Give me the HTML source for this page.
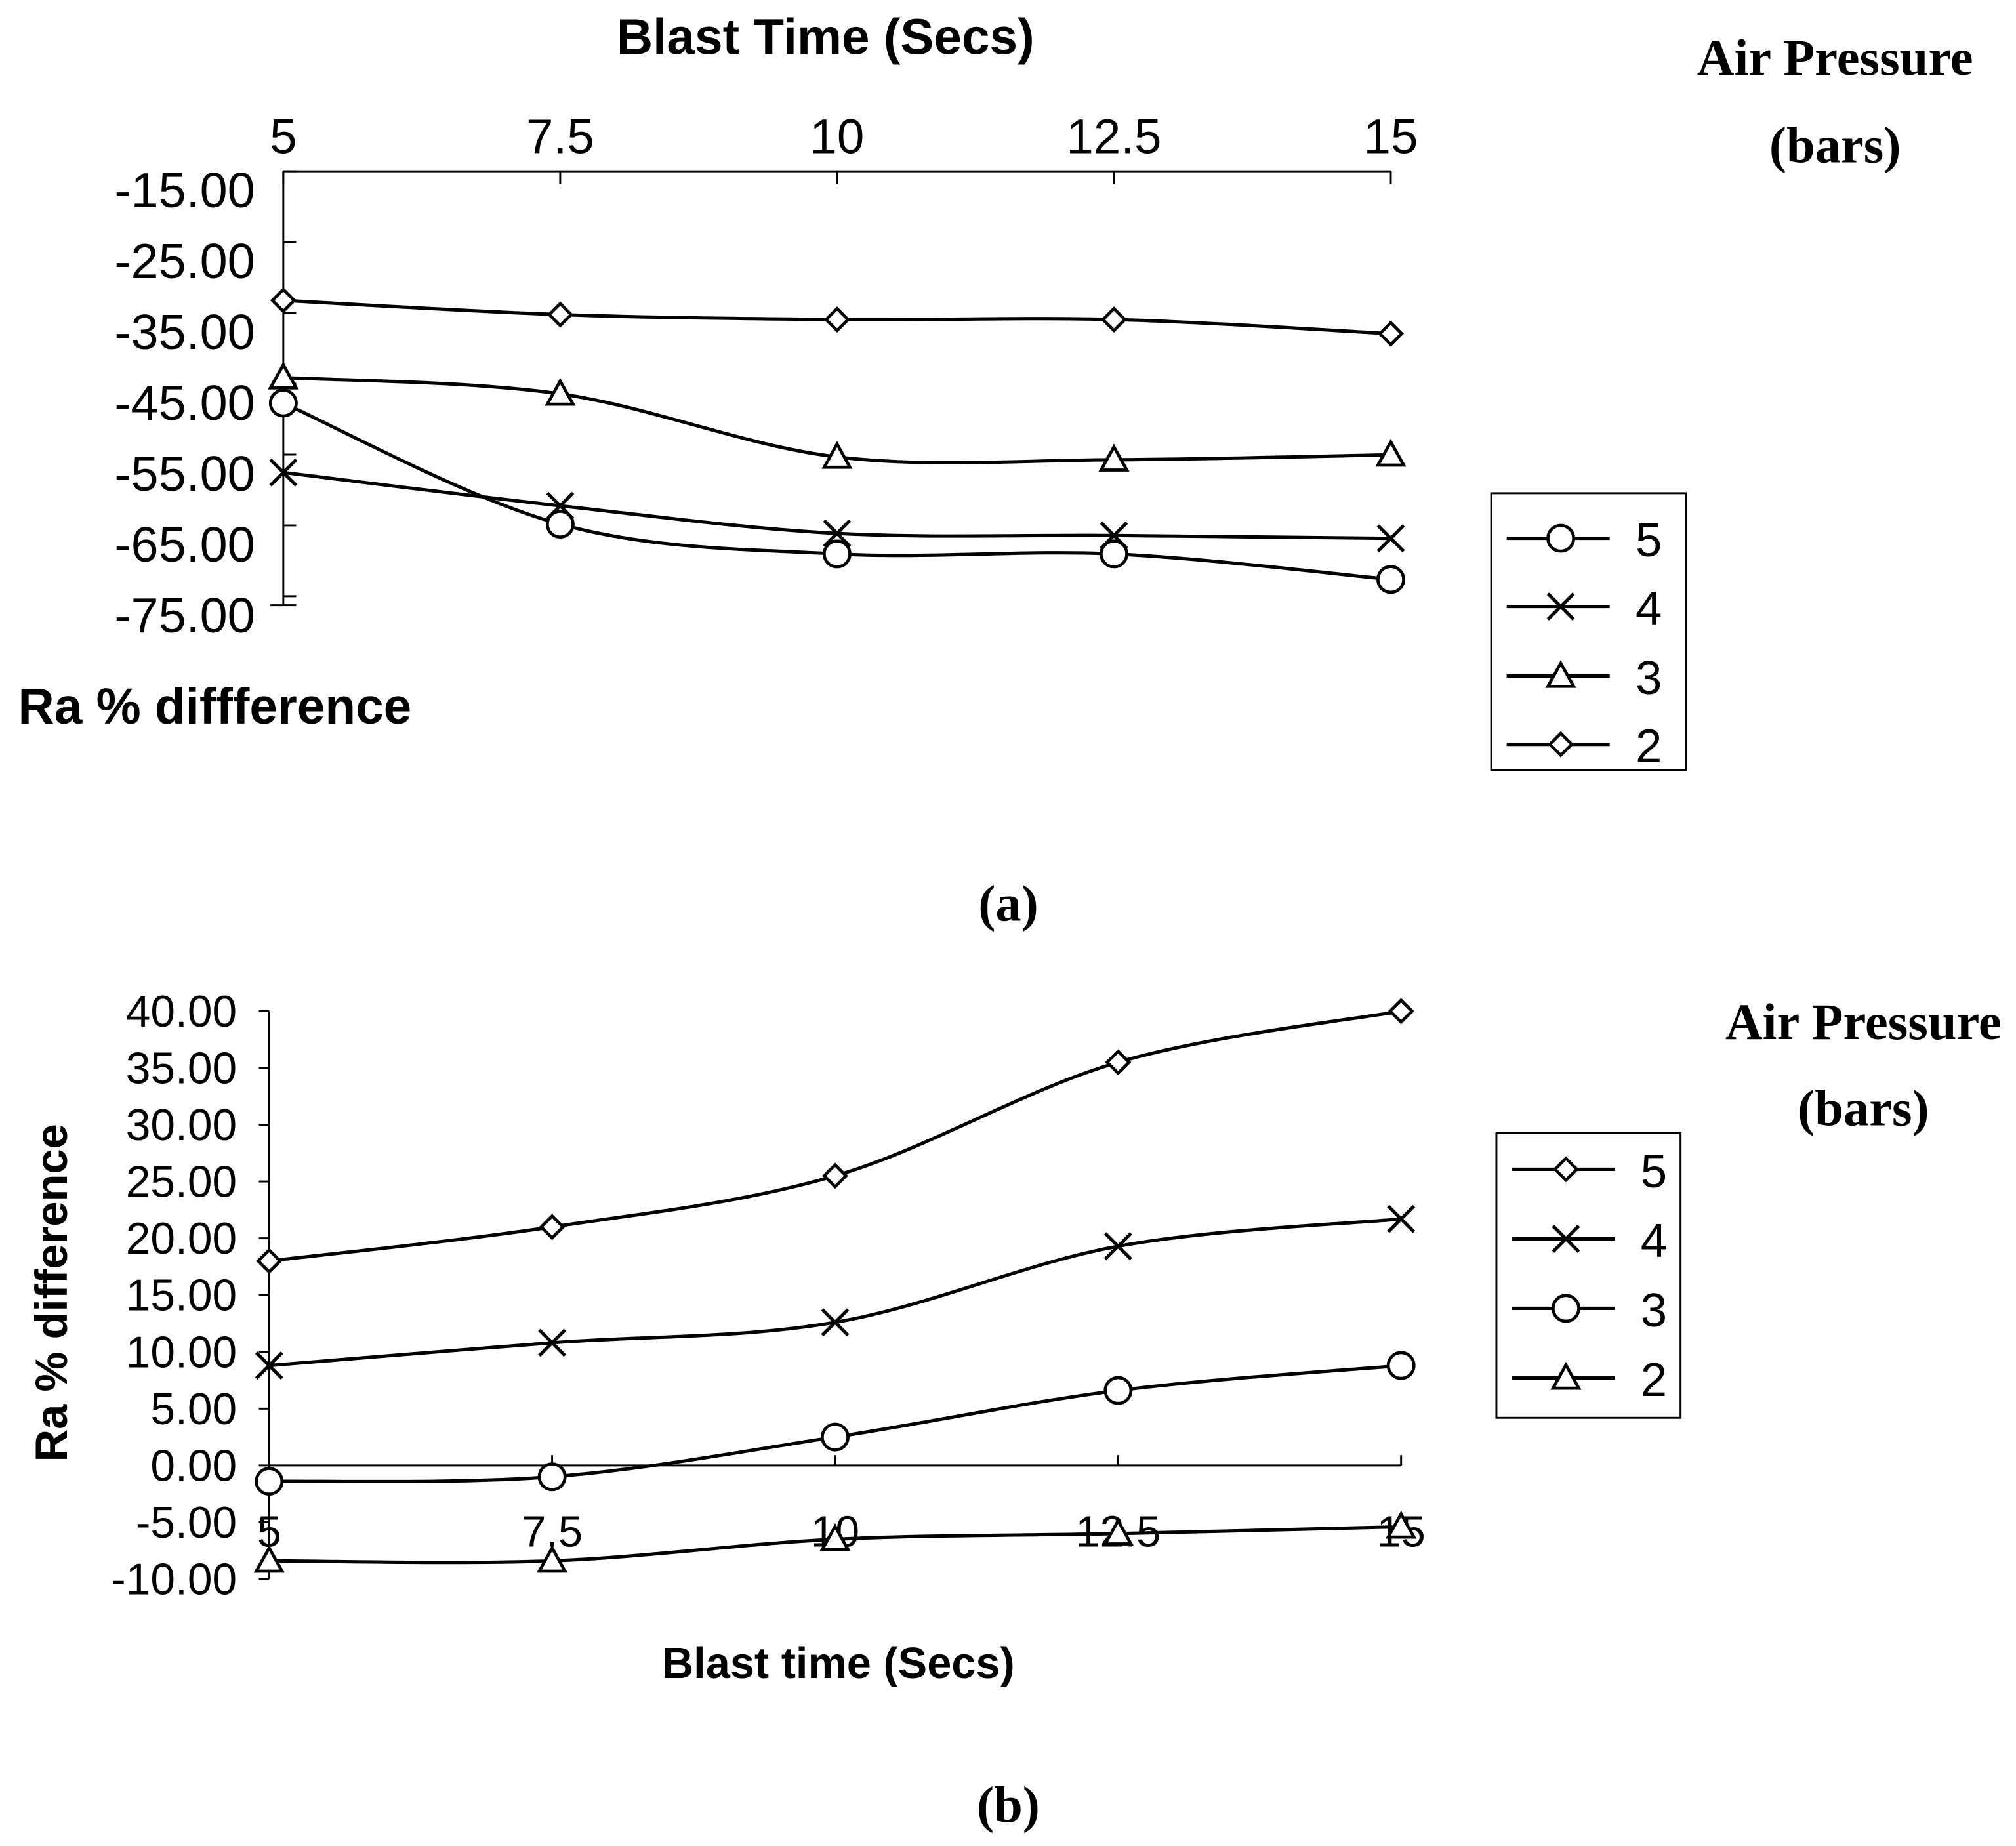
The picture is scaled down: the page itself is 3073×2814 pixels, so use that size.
<!DOCTYPE html>
<html><head><meta charset="utf-8"><style>
html,body{margin:0;padding:0;background:#fff;}
svg{display:block;}
text{font-family:"Liberation Sans",Arial,sans-serif;fill:#000;}
.serif{font-family:"Liberation Serif",serif;font-weight:bold;}
</style></head><body>
<svg id="c" width="3073" height="2814" viewBox="0 0 1565.5 1433.5" xmlns="http://www.w3.org/2000/svg">
<g id="ga"></g>
<g id="gb"></g>
</svg>
<script>
const xCats = [5, 7.5, 10, 12.5, 15];
const xTickLabels = ["5", "7.5", "10", "12.5", "15"];
// Chart (a)
const aSeries5 = [-45, -62.1, -66.3, -66.3, -69.9];
const aSeries4 = [-54.8, -59.5, -63.4, -63.7, -64.1];
const aSeries3 = [-41.4, -43.7, -52.6, -53, -52.3];
const aSeries2 = [-30.5, -32.5, -33.2, -33.2, -35.2];
const aYTicks = [-15, -25, -35, -45, -55, -65, -75];
// Chart (b)
const bSeries5 = [18, 21, 25.5, 35.5, 40];
const bSeries4 = [8.8, 10.8, 12.6, 19.3, 21.7];
const bSeries3 = [-1.4, -1, 2.5, 6.6, 8.8];
const bSeries2 = [-8.4, -8.4, -6.5, -6, -5.4];
const bYTicks = [40, 35, 30, 25, 20, 15, 10, 5, 0, -5, -10];

const NS = "http://www.w3.org/2000/svg";
function mk(parent, tag, attrs, txt){
  const e = document.createElementNS(NS, tag);
  for (const k in attrs) e.setAttribute(k, attrs[k]);
  if (txt !== undefined) e.textContent = txt;
  parent.appendChild(e); return e;
}
function smooth(pts){
  let d = "M" + pts[0][0] + "," + pts[0][1];
  for (let i = 0; i < pts.length - 1; i++){
    const p0 = pts[Math.max(0,i-1)], p1 = pts[i], p2 = pts[i+1], p3 = pts[Math.min(pts.length-1,i+2)];
    const t = 6;
    const c1x = p1[0] + (p2[0]-p0[0])/t, c1y = p1[1] + (p2[1]-p0[1])/t;
    const c2x = p2[0] - (p3[0]-p1[0])/t, c2y = p2[1] - (p3[1]-p1[1])/t;
    d += " C" + c1x + "," + c1y + " " + c2x + "," + c2y + " " + p2[0] + "," + p2[1];
  }
  return d;
}
function marker(g, type, x, y){
  const st = {fill:"#fff", stroke:"#000", "stroke-width":2.4};
  let e;
  if (type === "circle") e = mk(g, "circle", Object.assign({cx:x, cy:y, r:10}, st));
  else if (type === "diamond") e = mk(g, "polygon", Object.assign({points:`${x},${y-8.5} ${x+8.5},${y} ${x},${y+8.5} ${x-8.5},${y}`}, st));
  else if (type === "triangle") e = mk(g, "polygon", Object.assign({points:`${x},${y-10} ${x+10},${y+8} ${x-10},${y+8}`}, st));
  else { e = mk(g, "path", {d:`M${x-10},${y-10}L${x+10},${y+10}M${x+10},${y-10}L${x-10},${y+10}`, stroke:"#000", "stroke-width":2.6, fill:"none"}); }
  
  
  return e;
}
function series(g, vals, type, xs, ys, name){
  const pts = vals.map((v,i)=>[xs(xCats[i]), ys(v)]);
  const p = mk(g, "path", {d:smooth(pts), fill:"none", stroke:"#000", "stroke-width":2.6});
  
  
  pts.forEach(q=>marker(g, type, q[0], q[1]));
}
function legend(g, x0, y0, w, h, entries){
  const b = mk(g, "rect", {x:x0, y:y0, width:w, height:h, fill:"none", stroke:"#000", "stroke-width":1.5});
  
  
  entries.forEach(en=>{
    const l = mk(g, "line", {x1:x0+12, x2:x0+92, y1:en[2], y2:en[2], stroke:"#000", "stroke-width":2.6});
    
    
    marker(g, en[1], x0+54, en[2]);
    const t = mk(g, "text", {x:x0+112, y:en[2]+14, "font-size":37}, en[0]);
    
    
  });
}

// ---- Chart A ----
(function(){
  const g = document.getElementById("ga");
  const xs = v => 220 + (v-5)/10*860;
  const ys = v => 148 + (-15 - v)*5.5;
  let e = mk(g, "line", {x1:220, x2:1080, y1:133, y2:133, stroke:"#000", "stroke-width":1.5});
  
  
  e = mk(g, "line", {x1:220, x2:220, y1:133, y2:470, stroke:"#000", "stroke-width":1.5});
  
  
  xCats.forEach((c,i)=>{
    mk(g, "line", {x1:xs(c), x2:xs(c), y1:133, y2:143, stroke:"#000", "stroke-width":1.5});
    const t = mk(g, "text", {x:xs(c), y:119, "font-size":38, "text-anchor":"middle"}, xTickLabels[i]);
    
    
  });
  aYTicks.forEach((v,i)=>{
    const ty = 133 + 55*i;
    if (ty <= 470) mk(g, "line", {x1:220, x2:230, y1:ty, y2:ty, stroke:"#000", "stroke-width":1.5});
    const t = mk(g, "text", {x:198, y:ys(v)+13, "font-size":38.5, "text-anchor":"end"}, v.toFixed(2));
    
    
  });
  mk(g, "line", {x1:210, x2:230, y1:470, y2:470, stroke:"#000", "stroke-width":1.5});
  series(g, aSeries2, "diamond", xs, ys, "series-2bar");
  series(g, aSeries3, "triangle", xs, ys, "series-3bar");
  series(g, aSeries4, "x", xs, ys, "series-4bar");
  series(g, aSeries5, "circle", xs, ys, "series-5bar");
  legend(g, 1158, 383, 151, 215, [["5","circle",418],["4","x",471],["3","triangle",525],["2","diamond",578]]);
  e = mk(g, "text", {x:641, y:42, "font-size":39, "font-weight":"bold", "text-anchor":"middle"}, "Blast Time (Secs)");
  
  
  e = mk(g, "text", {x:14, y:562, "font-size":39, "font-weight":"bold"}, "Ra % diffference");
  
  
  e = mk(g, "text", {x:1425, y:58, "font-size":40, "text-anchor":"middle", class:"serif"}, "Air Pressure");
  
  
  e = mk(g, "text", {x:1425, y:126, "font-size":40, "text-anchor":"middle", class:"serif"}, "(bars)");
  
  
  e = mk(g, "text", {x:783, y:715, "font-size":40, "text-anchor":"middle", class:"serif"}, "(a)");
  
  
})();

// ---- Chart B ----
(function(){
  const g = document.getElementById("gb");
  const xs = v => 209 + (v-5)/10*879;
  const ys = v => 1138 - v*8.82;
  let e = mk(g, "line", {x1:209, x2:1088, y1:ys(0), y2:ys(0), stroke:"#000", "stroke-width":1.5});
  
  
  e = mk(g, "line", {x1:209, x2:209, y1:ys(40), y2:ys(-10), stroke:"#000", "stroke-width":1.5});
  
  
  xCats.forEach((c,i)=>{
    mk(g, "line", {x1:xs(c), x2:xs(c), y1:ys(0)-8, y2:ys(0), stroke:"#000", "stroke-width":1.5});
    const t = mk(g, "text", {x:xs(c), y:1201, "font-size":34, "text-anchor":"middle"}, xTickLabels[i]);
    
    
  });
  bYTicks.forEach(v=>{
    mk(g, "line", {x1:201, x2:209, y1:ys(v), y2:ys(v), stroke:"#000", "stroke-width":1.5});
    const t = mk(g, "text", {x:184, y:ys(v)+12, "font-size":34.5, "text-anchor":"end"}, v.toFixed(2));
    
    
  });
  series(g, bSeries5, "diamond", xs, ys, "series-5bar");
  series(g, bSeries4, "x", xs, ys, "series-4bar");
  series(g, bSeries3, "circle", xs, ys, "series-3bar");
  series(g, bSeries2, "triangle", xs, ys, "series-2bar");
  legend(g, 1162, 880, 143, 221, [["5","diamond",908],["4","x",962],["3","circle",1016],["2","triangle",1070]]);
  e = mk(g, "text", {x:651, y:1303, "font-size":34, "font-weight":"bold", "text-anchor":"middle"}, "Blast time (Secs)");
  
  
  e = mk(g, "text", {x:0, y:0, "font-size":35, "font-weight":"bold", "text-anchor":"middle", transform:"translate(52,1004) rotate(-90)"}, "Ra % difference");
  
  
  e = mk(g, "text", {x:1447, y:807, "font-size":40, "text-anchor":"middle", class:"serif"}, "Air Pressure");
  
  
  e = mk(g, "text", {x:1447, y:874, "font-size":40, "text-anchor":"middle", class:"serif"}, "(bars)");
  
  
  e = mk(g, "text", {x:783, y:1415, "font-size":40, "text-anchor":"middle", class:"serif"}, "(b)");
  
  
})();
</script>
</body></html>
